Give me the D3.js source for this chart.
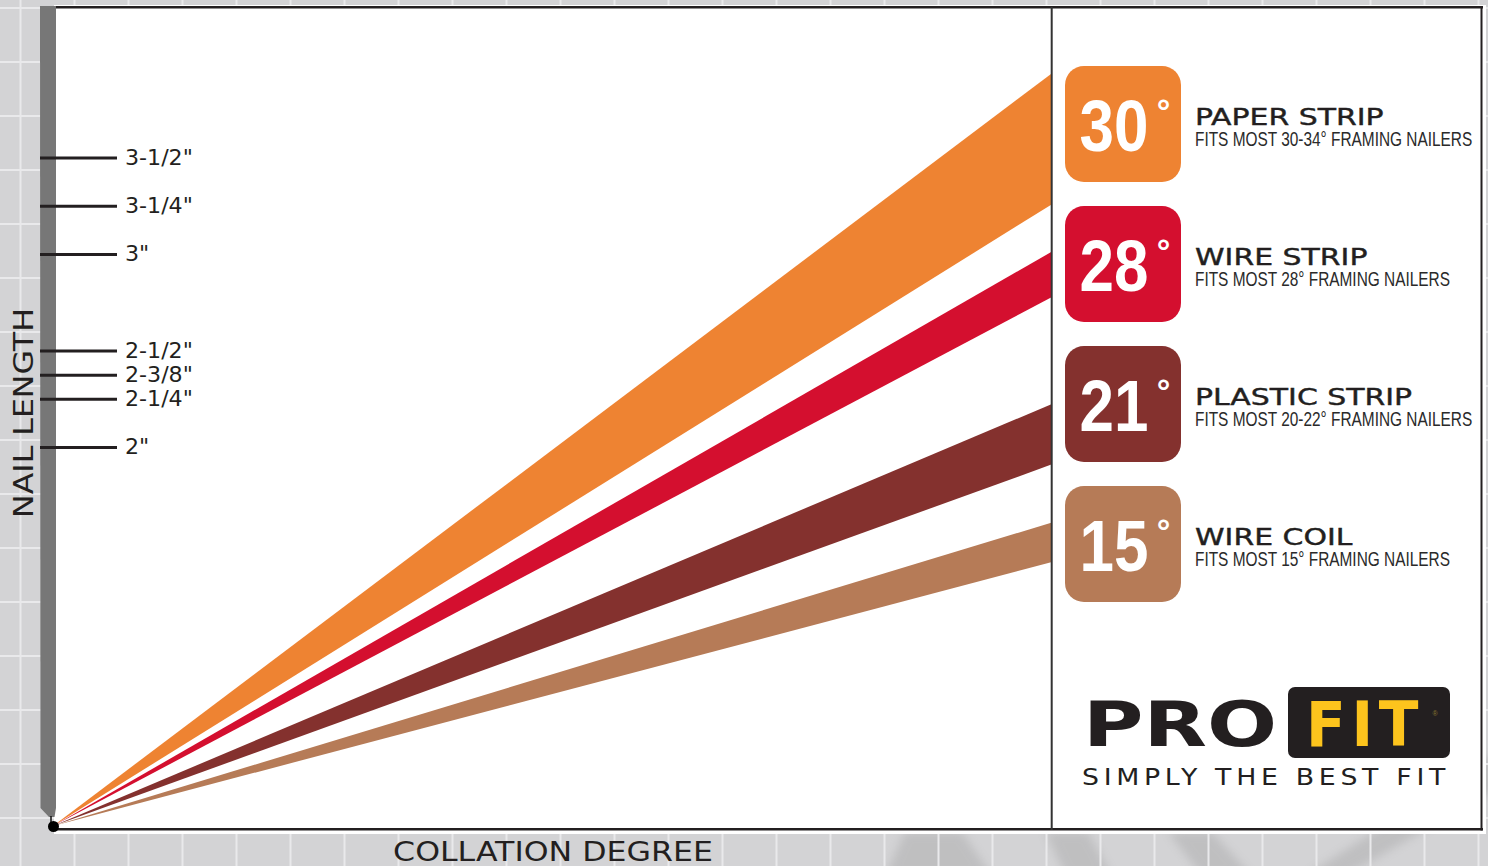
<!DOCTYPE html>
<html>
<head>
<meta charset="utf-8">
<script src="https://cdn.jsdelivr.net/npm/d3@7"></script>
<style>
  body { margin: 0; background: #d3d3d5; overflow: hidden; }
</style>
</head>
<body>
<svg id="chart"></svg>
<script>
// collation types, top to bottom
const degrees = [30, 28, 21, 15];
const stripNames = ["PAPER STRIP", "WIRE STRIP", "PLASTIC STRIP", "WIRE COIL"];
const fitsText = [
  "FITS MOST 30-34\u00B0 FRAMING NAILERS",
  "FITS MOST 28\u00B0 FRAMING NAILERS",
  "FITS MOST 20-22\u00B0 FRAMING NAILERS",
  "FITS MOST 15\u00B0 FRAMING NAILERS"
];
// angle range of each fan (degrees, as drawn)
const fanLow = [31.9, 27.9, 19.9, 14.8];
const fanHigh = [37.0, 29.9, 22.9, 16.9];
const stripColors = ["#ee8332", "#d40f2f", "#84312e", "#b67b57"];

// nail length axis
const nailLengths = [3.5, 3.25, 3, 2.5, 2.375, 2.25, 2];
const nailLabels = ['3-1/2"', '3-1/4"', '3"', '2-1/2"', '2-3/8"', '2-1/4"', '2"'];

const width = 1488, height = 866;
const ink = "#231f20";
const wide = "'DejaVu Sans', sans-serif";
const narrow = "'Liberation Sans', Arial, sans-serif";

const svg = d3.select("#chart")
  .attr("width", width)
  .attr("height", height);

function stretch(sel, k, adjust) {
  sel.each(function() {
    const w = this.getComputedTextLength();
    d3.select(this)
      .attr("textLength", w * k)
      .attr("lengthAdjust", adjust || "spacingAndGlyphs");
  });
}

const defs = svg.append("defs");
defs.append("filter").attr("id", "soft")
  .append("feGaussianBlur").attr("stdDeviation", 5);

// background tiles
svg.append("rect").attr("width", width).attr("height", height).attr("fill", "#d3d3d5");

// faint shapes of the tool behind the board
const ghost = svg.append("g").attr("fill", "#7a7a7a").attr("opacity", 0.22).attr("filter", "url(#soft)");
[
  [[885, 876], [905, 832], [962, 832], [992, 876]],
  [[1045, 832], [1088, 832], [1112, 876], [1066, 876]],
  [[1168, 832], [1212, 832], [1252, 876], [1202, 876]],
  [[1305, 876], [1345, 876], [1498, 788], [1498, 752]]
].forEach(p => ghost.append("polygon").attr("points", p.map(q => q.join(",")).join(" ")));

const grid = svg.append("g").attr("stroke", "#e9e9eb").attr("stroke-width", 2);
grid.selectAll(".gv").data(d3.range(20.5, width, 54)).enter()
  .append("line").attr("x1", d => d).attr("x2", d => d).attr("y1", 0).attr("y2", height);
grid.selectAll(".gh").data(d3.range(8, height, 54)).enter()
  .append("line").attr("y1", d => d).attr("y2", d => d).attr("x1", 0).attr("x2", width);

// board
svg.append("rect")
  .attr("x", 54).attr("y", 5).attr("width", 1432).attr("height", 829)
  .attr("fill", "#ffffff");

// fans
const x = d3.scaleLinear().domain([0, 1]).range([53, 1052]);
const rise = d3.scaleLinear().domain([0, 1]).range([826, 826 - 999]);
const fanLine = d3.line().x(d => x(d[0])).y(d => rise(d[1]));
const rad = a => a * Math.PI / 180;

svg.selectAll(".fan")
  .data(degrees)
  .enter()
  .append("path")
  .attr("class", "fan")
  .attr("d", (d, i) => fanLine([
    [0, 0],
    [1, Math.tan(rad(fanHigh[i]))],
    [1, Math.tan(rad(fanLow[i]))]
  ]) + "Z")
  .attr("fill", (d, i) => stripColors[i]);

// nail (gray bar)
svg.append("path")
  .attr("d", "M40,6 L56,6 L56,808 L54.5,817 L49,817 L40.5,808 Z")
  .attr("fill", "#777777");
svg.append("line")
  .attr("x1", 51).attr("x2", 51).attr("y1", 816).attr("y2", 826)
  .attr("stroke", "#111").attr("stroke-width", 1.5);

// nail length axis
const y = d3.scaleLinear().domain([2, 3.5]).range([447, 157.5]);
const yAxis = d3.axisRight(y)
  .tickValues(nailLengths)
  .tickSize(77)
  .tickPadding(8)
  .tickFormat((d, i) => nailLabels[i]);

const yG = svg.append("g")
  .attr("transform", "translate(40,0)")
  .call(yAxis);
yG.select(".domain").remove();
yG.selectAll(".tick line").attr("stroke", ink).attr("stroke-width", 3);
yG.selectAll(".tick text")
  .attr("fill", ink)
  .attr("dy", "0.33em")
  .style("font-family", wide)
  .style("font-size", "20.5px");
stretch(yG.selectAll(".tick text"), 1.08);

// frame lines
svg.append("line").attr("x1", 56).attr("x2", 1483).attr("y1", 7.3).attr("y2", 7.3)
  .attr("stroke", ink).attr("stroke-width", 2.5);
svg.append("line").attr("x1", 53).attr("x2", 1483).attr("y1", 829.3).attr("y2", 829.3)
  .attr("stroke", ink).attr("stroke-width", 2.5);
svg.append("line").attr("x1", 1051.7).attr("x2", 1051.7).attr("y1", 7).attr("y2", 830)
  .attr("stroke", "#333").attr("stroke-width", 2);
svg.append("line").attr("x1", 1481.5).attr("x2", 1481.5).attr("y1", 6).attr("y2", 830.5)
  .attr("stroke", ink).attr("stroke-width", 2);

// origin dot
svg.append("circle").attr("cx", 53.5).attr("cy", 826.5).attr("r", 5.5).attr("fill", "#000");

// axis titles
const yTitle = svg.append("text")
  .attr("transform", "translate(32.5,413) rotate(-90)")
  .attr("fill", ink)
  .style("font-family", wide)
  .style("font-size", "27px")
  .text("NAIL LENGTH");
stretch(yTitle, 1.17);
yTitle.attr("x", -yTitle.attr("textLength") / 2);

const xTitle = svg.append("text")
  .attr("y", 861)
  .attr("fill", ink)
  .style("font-family", wide)
  .style("font-size", "27px")
  .text("COLLATION DEGREE");
stretch(xTitle, 1.17);
xTitle.attr("x", 553 - xTitle.attr("textLength") / 2);

// legend
const row = d3.scaleBand().domain(d3.range(degrees.length)).range([66, 66 + 140 * degrees.length]);
const items = svg.selectAll(".item")
  .data(degrees)
  .enter()
  .append("g")
  .attr("class", "item")
  .attr("transform", (d, i) => `translate(0,${row(i)})`);

items.append("rect")
  .attr("x", 1065).attr("y", 0)
  .attr("width", 116).attr("height", 116)
  .attr("rx", 19)
  .attr("fill", (d, i) => stripColors[i]);

const nums = items.append("text")
  .attr("y", 85)
  .attr("fill", "#fff")
  .style("font-family", narrow)
  .style("font-weight", "bold")
  .style("font-size", "72px")
  .text(d => d);
stretch(nums, 0.86);
nums.attr("x", function() { return 1114 - this.getAttribute("textLength") / 2; });

items.append("text")
  .attr("x", 1163.5)
  .attr("y", 57)
  .attr("text-anchor", "middle")
  .attr("fill", "#fff")
  .style("font-family", narrow)
  .style("font-weight", "bold")
  .style("font-size", "34px")
  .text("\u00B0");

const names = items.append("text")
  .attr("x", 1195)
  .attr("y", 59)
  .attr("fill", ink)
  .style("font-family", wide)
  .style("font-size", "23px")
  .style("stroke", ink)
  .style("stroke-width", 0.4)
  .text((d, i) => stripNames[i]);
stretch(names, 1.3);

const fits = items.append("text")
  .attr("x", 1195)
  .attr("y", 79.5)
  .attr("fill", "#2a2a2a")
  .style("font-family", narrow)
  .style("font-size", "19.5px")
  .text((d, i) => fitsText[i]);
stretch(fits, 0.79);

// logo
const logo = svg.append("g");
logo.append("text")
  .attr("x", 1083).attr("y", 746)
  .attr("fill", ink)
  .attr("textLength", 194).attr("lengthAdjust", "spacingAndGlyphs")
  .style("font-family", wide).style("font-weight", "bold").style("font-size", "62px")
  .text("PRO");
logo.append("rect")
  .attr("x", 1288).attr("y", 687).attr("width", 162).attr("height", 71).attr("rx", 7)
  .attr("fill", ink);
logo.append("text")
  .attr("x", 1306).attr("y", 746)
  .attr("fill", "#fdc41d")
  .attr("textLength", 118).attr("lengthAdjust", "spacingAndGlyphs")
  .style("font-family", wide).style("font-weight", "bold").style("font-size", "62px")
  .style("letter-spacing", "6px")
  .text("FIT");
logo.append("text")
  .attr("x", 1435).attr("y", 716)
  .attr("text-anchor", "middle")
  .attr("fill", "#8a7630")
  .style("font-family", narrow).style("font-size", "7px")
  .text("\u00AE");
logo.append("text")
  .attr("x", 1082).attr("y", 785)
  .attr("fill", ink)
  .attr("textLength", 368).attr("lengthAdjust", "spacingAndGlyphs")
  .style("font-family", wide).style("font-size", "23px")
  .style("letter-spacing", "4px")
  .text("SIMPLY THE BEST FIT");
</script>
</body>
</html>
